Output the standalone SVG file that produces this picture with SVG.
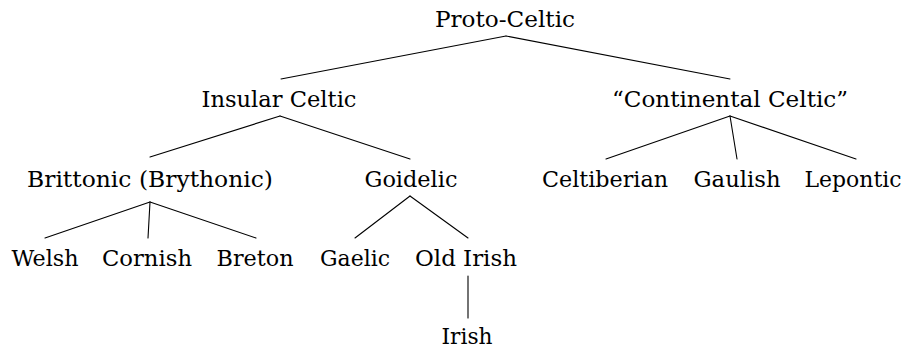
<svg xmlns="http://www.w3.org/2000/svg" width="907" height="349" viewBox="0 0 907 349">
<style>
text{font-family:'DejaVu Serif',serif;font-size:22.5px;fill:#000;text-anchor:middle}
.e line{stroke:#000;stroke-width:1.1;stroke-linecap:round}
</style>
<rect width="907" height="349" fill="#fff"/>
<g class="e" id="connectors">
<line x1="506" y1="36" x2="281" y2="79"/>
<line x1="506" y1="36" x2="730" y2="79"/>
<line x1="280" y1="116" x2="150" y2="157"/>
<line x1="280" y1="116" x2="410" y2="159"/>
<line x1="730" y1="116" x2="606" y2="159"/>
<line x1="730" y1="116" x2="737" y2="159"/>
<line x1="730" y1="116" x2="856" y2="159"/>
<line x1="150" y1="202" x2="45" y2="238"/>
<line x1="150" y1="202" x2="148" y2="238"/>
<line x1="150" y1="202" x2="256" y2="238"/>
<line x1="410" y1="196" x2="355" y2="238"/>
<line x1="410" y1="196" x2="468" y2="238"/>
<line x1="468" y1="276" x2="468" y2="318"/>
</g>
<g id="proto-celtic"><text x="505" y="27" textLength="140" lengthAdjust="spacingAndGlyphs">Proto-Celtic</text></g>
<g id="insular-celtic"><text x="279" y="107" textLength="155" lengthAdjust="spacingAndGlyphs">Insular Celtic</text></g>
<g id="continental-celtic"><text x="730" y="107" textLength="236" lengthAdjust="spacingAndGlyphs">“Continental Celtic”</text></g>
<g id="brittonic"><text x="150" y="187" textLength="246" lengthAdjust="spacingAndGlyphs">Brittonic (Brythonic)</text></g>
<g id="goidelic"><text x="411" y="187" textLength="93" lengthAdjust="spacingAndGlyphs">Goidelic</text></g>
<g id="celtiberian"><text x="605" y="187" textLength="126" lengthAdjust="spacingAndGlyphs">Celtiberian</text></g>
<g id="gaulish"><text x="737" y="187" textLength="87" lengthAdjust="spacingAndGlyphs">Gaulish</text></g>
<g id="lepontic"><text x="853" y="187" textLength="97" lengthAdjust="spacingAndGlyphs">Lepontic</text></g>
<g id="welsh"><text x="45" y="266" textLength="67" lengthAdjust="spacingAndGlyphs">Welsh</text></g>
<g id="cornish"><text x="147" y="266" textLength="90" lengthAdjust="spacingAndGlyphs">Cornish</text></g>
<g id="breton"><text x="255" y="266" textLength="77" lengthAdjust="spacingAndGlyphs">Breton</text></g>
<g id="gaelic"><text x="355" y="266" textLength="70" lengthAdjust="spacingAndGlyphs">Gaelic</text></g>
<g id="old-irish"><text x="466" y="266" textLength="102" lengthAdjust="spacingAndGlyphs">Old Irish</text></g>
<g id="irish"><text x="467" y="344" textLength="51" lengthAdjust="spacingAndGlyphs">Irish</text></g>
</svg>
